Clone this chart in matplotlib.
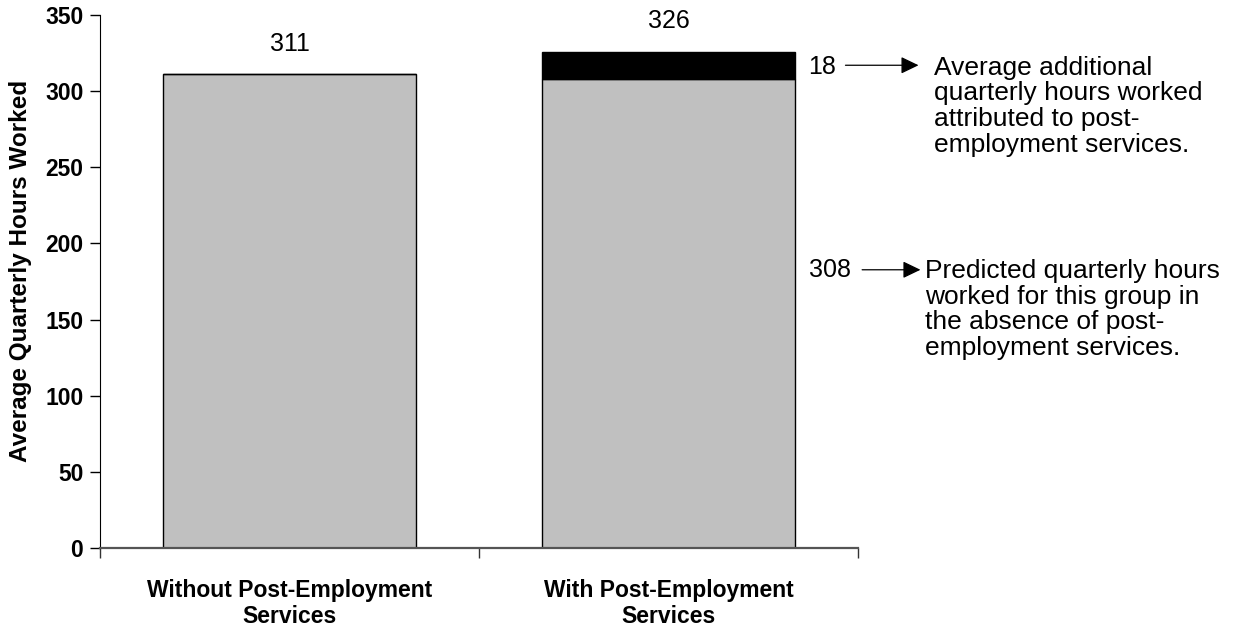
import matplotlib
matplotlib.use("Agg")
import matplotlib.pyplot as plt
from matplotlib import font_manager
from matplotlib.transforms import blended_transform_factory, offset_copy

# Data
categories = ["Without Post-Employment\nServices", "With Post-Employment\nServices"]
base_hours = [311, 308]
additional_hours = [0, 18]
total_labels = [311, 326]
yticks = [0, 50, 100, 150, 200, 250, 300, 350]
note_additional = "Average additional\nquarterly hours worked\nattributed to post-\nemployment services."
note_predicted = "Predicted quarterly hours\nworked for this group in\nthe absence of post-\nemployment services."

available = {f.name for f in font_manager.fontManager.ttflist}
main_font = "Liberation Sans" if "Liberation Sans" in available else "DejaVu Sans"
plt.rcParams["font.family"] = [main_font, "DejaVu Sans"]

fig = plt.figure(figsize=(12.59, 6.28), dpi=100)
ax = fig.add_axes([100 / 1259, 80 / 628, 758 / 1259, 533 / 628])

x = list(range(len(categories)))
bar_w = 0.67
ax.bar(x, base_hours, width=bar_w, color="#C0C0C0", edgecolor="black", linewidth=1.0, zorder=2)
ax.bar(x, additional_hours, width=bar_w, bottom=base_hours, color="black",
       edgecolor="black", linewidth=1.0, zorder=2)

ax.set_xlim(-0.5, 1.5)
ax.set_ylim(0, 350)
ax.set_yticks(yticks)
ax.set_yticklabels([str(t) for t in yticks], fontsize=16.5, fontweight="bold")
ax.tick_params(axis="y", direction="out", length=7, width=1, pad=5)

# Category labels centred under bars, ticks on the boundaries
ax.set_xticks([-0.5, 0.5, 1.5])
ax.set_xticklabels([])
ax.tick_params(axis="x", direction="out", length=7, width=1, color="#333333")
for xi, lab in zip(x, categories):
    ax.annotate(lab, xy=(xi, 0), xycoords="data", xytext=(0, -22), textcoords="offset points",
                ha="center", va="top", fontsize=16.5, fontweight="bold", linespacing=1.2)

ax.set_ylabel("Average Quarterly Hours Worked", fontsize=17.5, fontweight="bold")
ax.yaxis.set_label_coords(-0.09, 0.52)

for side in ("top", "right"):
    ax.spines[side].set_visible(False)
ax.spines["left"].set_color("black")
ax.spines["bottom"].set_color("#555555")
ax.spines["bottom"].set_linewidth(1.6)

# Totals above bars
for xi, b, a, lab in zip(x, base_hours, additional_hours, total_labels):
    ax.annotate(str(lab), xy=(xi, b + a), xytext=(0, 22), textcoords="offset points",
                ha="center", va="center", fontsize=18)

# Side annotations for the stacked bar
right_edge = x[1] + bar_w / 2
mid_add = base_hours[1] + additional_hours[1] / 2
trans = blended_transform_factory(ax.transData, ax.transAxes)
pred_y = 0.522


def arrow_between(y, ytrans, x0_pt, x1_pt):
    t0 = offset_copy(ytrans, fig=fig, x=x0_pt, y=0, units="points")
    t1 = offset_copy(ytrans, fig=fig, x=x1_pt, y=0, units="points")
    ax.annotate("", xy=(right_edge, y), xycoords=t1, xytext=(right_edge, y), textcoords=t0,
                arrowprops=dict(arrowstyle="-|>,head_length=10.8,head_width=5.2",
                                color="black", lw=0.9, shrinkA=0, shrinkB=0,
                                mutation_scale=1))


ax.annotate(str(additional_hours[1]), xy=(right_edge, mid_add), xytext=(9, -1.5),
            textcoords="offset points", ha="left", va="center", fontsize=18)
arrow_between(mid_add, ax.transData, 36, 88.6)
ax.annotate(note_additional, xy=(right_edge, mid_add), xytext=(99.4, 7),
            textcoords="offset points", ha="left", va="top", fontsize=19, linespacing=1.1)

ax.annotate(str(base_hours[1]), xy=(right_edge, pred_y), xycoords=trans, xytext=(10, 0),
            textcoords="offset points", ha="left", va="center", fontsize=18)
arrow_between(pred_y, trans, 48, 90)
ax.annotate(note_predicted, xy=(right_edge, pred_y), xycoords=trans, xytext=(93.6, 8),
            textcoords="offset points", ha="left", va="top", fontsize=19, linespacing=1.1)

fig.savefig("out.png", dpi=100)
